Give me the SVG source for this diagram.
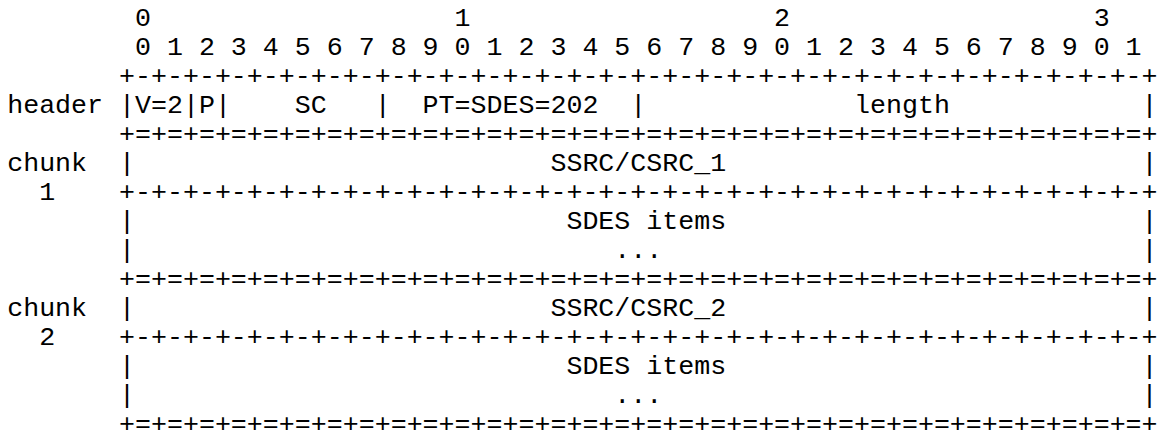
<svg xmlns="http://www.w3.org/2000/svg" width="1164" height="437" viewBox="0 0 1164 437">
<style>
text{font-family:"Liberation Mono","Courier New",monospace;font-size:26.63px;fill:#000;white-space:pre}
</style>
<rect width="1164" height="437" fill="#fff"/>
<g id="ruler">
<text x="7.2" y="25.5" xml:space="preserve">        0                   1                   2                   3</text>
<text x="7.2" y="54.5" xml:space="preserve">        0 1 2 3 4 5 6 7 8 9 0 1 2 3 4 5 6 7 8 9 0 1 2 3 4 5 6 7 8 9 0 1</text>
</g>
<g id="header">
<text x="7.2" y="83.5" xml:space="preserve">       +-+-+-+-+-+-+-+-+-+-+-+-+-+-+-+-+-+-+-+-+-+-+-+-+-+-+-+-+-+-+-+-+</text>
<text x="7.2" y="112.5" xml:space="preserve">header |V=2|P|    SC   |  PT=SDES=202  |             length            |</text>
<text x="7.2" y="141.5" xml:space="preserve">       +=+=+=+=+=+=+=+=+=+=+=+=+=+=+=+=+=+=+=+=+=+=+=+=+=+=+=+=+=+=+=+=+</text>
</g>
<g id="chunk1">
<text x="7.2" y="170.5" xml:space="preserve">chunk  |                          SSRC/CSRC_1                          |</text>
<text x="7.2" y="199.5" xml:space="preserve">  1    +-+-+-+-+-+-+-+-+-+-+-+-+-+-+-+-+-+-+-+-+-+-+-+-+-+-+-+-+-+-+-+-+</text>
<text x="7.2" y="228.5" xml:space="preserve">       |                           SDES items                          |</text>
<text x="7.2" y="257.5" xml:space="preserve">       |                              ...                              |</text>
<text x="7.2" y="286.5" xml:space="preserve">       +=+=+=+=+=+=+=+=+=+=+=+=+=+=+=+=+=+=+=+=+=+=+=+=+=+=+=+=+=+=+=+=+</text>
</g>
<g id="chunk2">
<text x="7.2" y="315.5" xml:space="preserve">chunk  |                          SSRC/CSRC_2                          |</text>
<text x="7.2" y="344.5" xml:space="preserve">  2    +-+-+-+-+-+-+-+-+-+-+-+-+-+-+-+-+-+-+-+-+-+-+-+-+-+-+-+-+-+-+-+-+</text>
<text x="7.2" y="373.5" xml:space="preserve">       |                           SDES items                          |</text>
<text x="7.2" y="402.5" xml:space="preserve">       |                              ...                              |</text>
<text x="7.2" y="431.5" xml:space="preserve">       +=+=+=+=+=+=+=+=+=+=+=+=+=+=+=+=+=+=+=+=+=+=+=+=+=+=+=+=+=+=+=+=+</text>
</g>
<g id="connectors"></g>
</svg>
